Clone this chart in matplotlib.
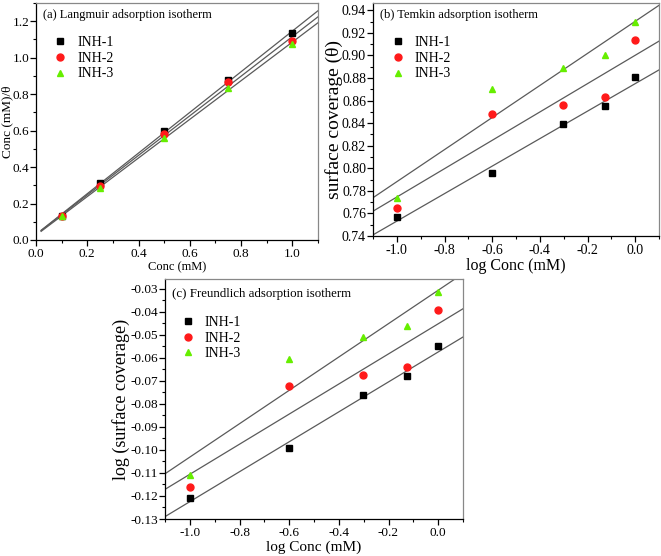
import numpy as np
import matplotlib
matplotlib.use("Agg")
import matplotlib.pyplot as plt
from matplotlib.ticker import MultipleLocator

plt.rcParams['font.family'] = ['Liberation Serif', 'DejaVu Serif']
plt.rcParams['axes.unicode_minus'] = False

series = ["INH-1", "INH-2", "INH-3"]
colors = ["#000000", "#ff1a1a", "#66ee00"]
markers = ["s", "o", "^"]

# (a) Langmuir
conc = [0.1, 0.25, 0.5, 0.75, 1.0]
lang_inh1 = [0.132, 0.314, 0.596, 0.877, 1.135]
lang_inh2 = [0.131, 0.295, 0.584, 0.869, 1.094]
lang_inh3 = [0.129, 0.287, 0.562, 0.833, 1.075]

# (b) Temkin
log_conc = [-1.0, -0.602, -0.301, -0.125, 0.0]
temk_inh1 = [0.757, 0.796, 0.839, 0.855, 0.881]
temk_inh2 = [0.765, 0.848, 0.856, 0.863, 0.914]
temk_inh3 = [0.774, 0.870, 0.889, 0.900, 0.930]

# (c) Freundlich
freu_inh1 = [-0.121, -0.099, -0.076, -0.068, -0.055]
freu_inh2 = [-0.116, -0.072, -0.0675, -0.064, -0.039]
freu_inh3 = [-0.111, -0.0605, -0.051, -0.046, -0.0315]

fig = plt.figure(figsize=(6.61, 5.56), dpi=100)
W, H = 661, 556

def add_ax(l, t, r, b):
    return fig.add_axes([l / W, 1 - b / H, (r - l) / W, (b - t) / H])

def style(ax, ls):
    ax.tick_params(which='both', direction='out', top=False, right=False, labelsize=ls)
    ax.tick_params(axis='y', pad=1)
    ax.tick_params(axis='x', pad=1.5)
    ax.tick_params(which='major', length=4, width=0.9)
    ax.tick_params(which='minor', length=2.5, width=0.8)
    for s in ax.spines.values():
        s.set_linewidth(0.9)
    ax.spines['right'].set_color('#888888')
    ax.spines['top'].set_color('#888888')

def panel(ax, x, ys, xfit, title, tsize, ty, leg_anchor):
    for y in ys:
        coef = np.polyfit(x, y, 1)
        ax.plot(xfit, np.polyval(coef, xfit), color='#5a5a5a', lw=0.9, zorder=1)
    for y, lab, c, m in zip(ys, series, colors, markers):
        ax.plot(x, y, ls='none', marker=m, color=c, ms=5 if m != 's' else 4.5,
                label=lab, zorder=3, mec=c)
    ax.text(0.025, ty, title, transform=ax.transAxes, ha='left', va='center', fontsize=tsize)
    ax.legend(loc='upper left', bbox_to_anchor=leg_anchor, frameon=False, fontsize=10,
              handletextpad=0.75, labelspacing=0.2, borderaxespad=0, handlelength=0.9,
              borderpad=0.4)

# (a)
axa = add_ax(36, 3, 318, 240)
panel(axa, conc, [lang_inh1, lang_inh2, lang_inh3], np.array([0.02, 1.1]),
      "(a) Langmuir adsorption isotherm", 9, 0.949, (0.045, 0.885))
axa.set_xlim(0, 1.1)
axa.set_ylim(0, 1.3)
axa.xaxis.set_major_locator(MultipleLocator(0.2))
axa.xaxis.set_minor_locator(MultipleLocator(0.1))
axa.yaxis.set_major_locator(MultipleLocator(0.2))
axa.yaxis.set_minor_locator(MultipleLocator(0.1))
axa.set_xlabel("Conc (mM)", fontsize=9, labelpad=1)
axa.set_ylabel("Conc (mM)/θ", fontsize=9.5)
axa.yaxis.set_label_coords(-0.08, 0.5)
style(axa, 9.5)

# (b)
axb = add_ax(373, 3, 659, 236)
panel(axb, log_conc, [temk_inh1, temk_inh2, temk_inh3], np.array([-1.1, 0.1]),
      "(b) Temkin adsorption isotherm", 9, 0.948, (0.0446, 0.883))
axb.set_xlim(-1.1, 0.1)
axb.set_ylim(0.74, 0.9465)
axb.xaxis.set_major_locator(MultipleLocator(0.2))
axb.xaxis.set_minor_locator(MultipleLocator(0.1))
axb.yaxis.set_major_locator(MultipleLocator(0.02))
axb.yaxis.set_minor_locator(MultipleLocator(0.01))
axb.set_xlabel("log Conc (mM)", fontsize=11.5, labelpad=1)
axb.set_ylabel("surface coverage (θ)", fontsize=14)
axb.yaxis.set_label_coords(-0.106, 0.5)
style(axb, 10)

# (c)
axc = add_ax(165, 279, 463, 519)
panel(axc, log_conc, [freu_inh1, freu_inh2, freu_inh3], np.array([-1.1, 0.1]),
      "(c) Freundlich adsorption isotherm", 9.3, 0.9375, (0.036, 0.87))
axc.set_xlim(-1.1, 0.1)
axc.set_ylim(-0.13, -0.0257)
axc.xaxis.set_major_locator(MultipleLocator(0.2))
axc.xaxis.set_minor_locator(MultipleLocator(0.1))
axc.yaxis.set_major_locator(MultipleLocator(0.01))
axc.yaxis.set_minor_locator(MultipleLocator(0.005))
axc.set_xlabel("log Conc (mM)", fontsize=11, labelpad=1)
axc.set_ylabel("log (surface coverage)", fontsize=13)
axc.yaxis.set_label_coords(-0.117, 0.5)
style(axc, 9.5)

fig.savefig("out.png", dpi=100)
